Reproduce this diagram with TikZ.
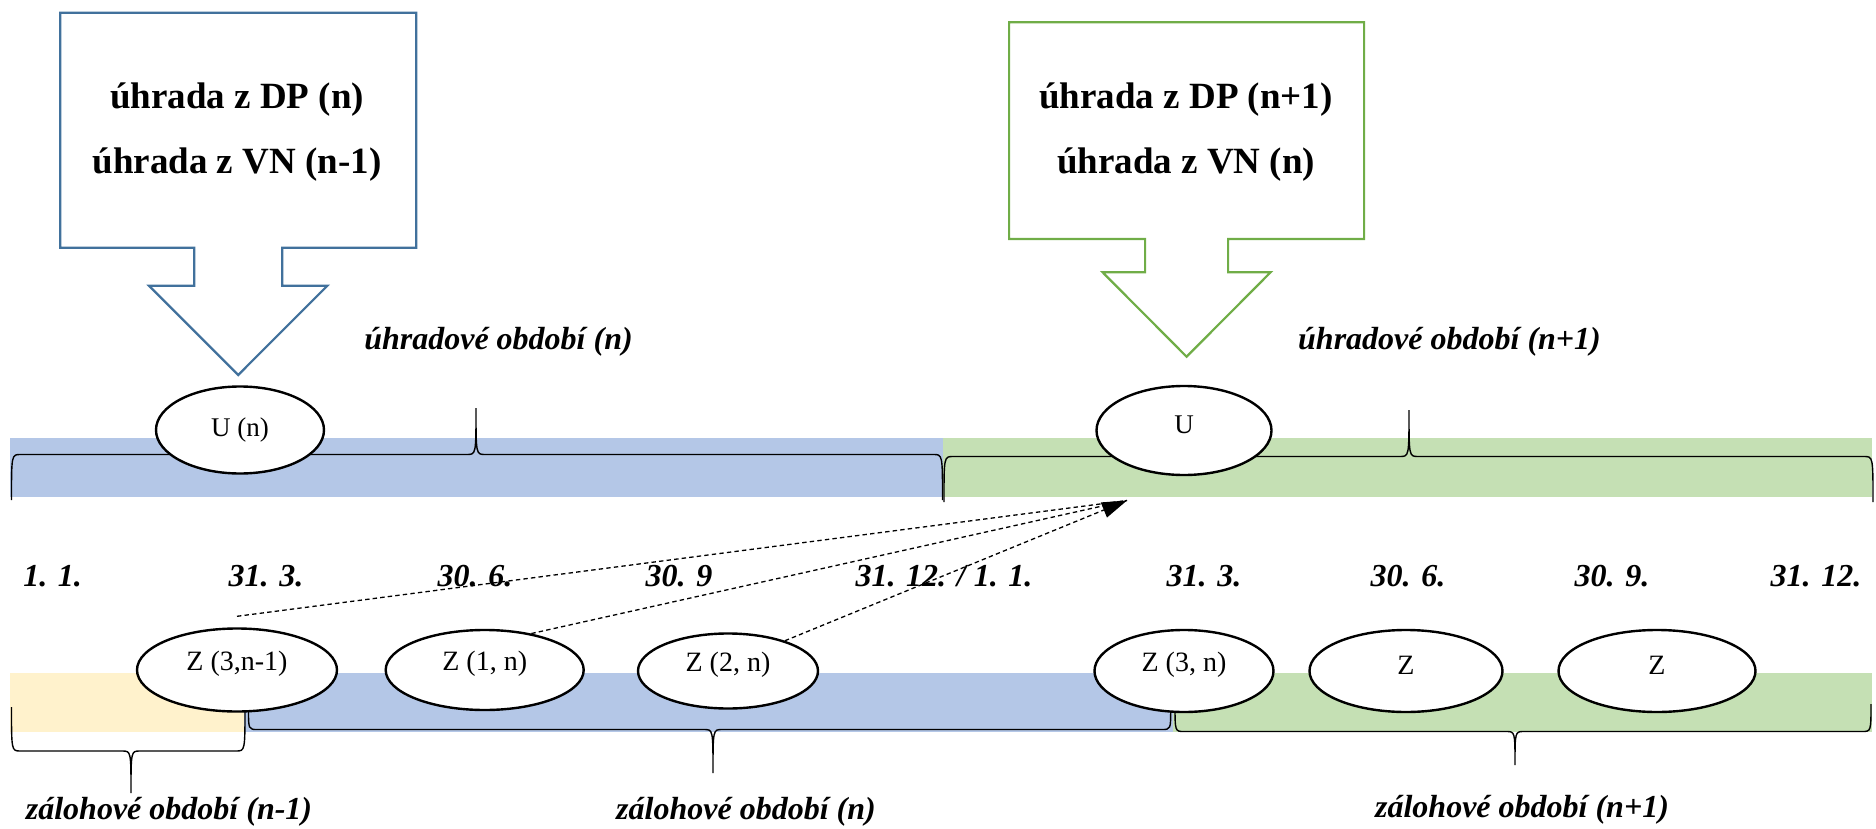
\documentclass[tikz,border=0pt]{standalone}
\usepackage{fontspec}
\setmainfont{Liberation Serif}
\usepackage{xcolor}
\definecolor{barblue}{RGB}{180,199,231}
\definecolor{bargreen}{RGB}{197,224,180}
\definecolor{baryellow}{RGB}{255,242,204}
\definecolor{boxblue}{RGB}{65,113,156}
\definecolor{boxgreen}{RGB}{112,173,71}
\usepackage{tikz}
\usetikzlibrary{shapes.geometric}
\usetikzlibrary{arrows.meta}
\newcommand{\bigfont}{\fontsize{18.5}{32.5}\selectfont\bfseries}
\newcommand{\labelfont}{\fontsize{16}{19}\selectfont\bfseries\itshape}
\newcommand{\ovalfont}{\fontsize{14}{17}\selectfont}
\newcommand{\lift}[1]{\raisebox{3pt}[\height][\depth]{#1}}
\newcommand{\bartop}{438.3}
\newcommand{\barbottom}{496.7}
\newcommand{\zbartop}{673.3}
\newcommand{\zbarbottom}{731.7}
\newcommand{\timebrace}[6]{%
    \draw[bracepath] (#1,#4) .. controls (#1,#5) and (#1,#5) .. (#1+9,#5)
        -- (#3-9,#5) .. controls (#3,#5) and (#3,#5) .. (#3,#6)
        .. controls (#3,#5) and (#3,#5) .. (#3+9,#5)
        -- (#2-9,#5) .. controls (#2,#5) and (#2,#5) .. (#2,#4);}
\tikzset{
    callout/.style={line width=1.1pt, line join=miter},
    boxtext/.style={font=\bigfont, align=center},
    period/.style={font=\labelfont},
    datum/.style={font=\labelfont},
    oval/.style={draw, ellipse, fill=white, line width=1.2pt, inner sep=0pt, font=\ovalfont},
    bracepath/.style={line width=0.7pt},
    link/.style={dash pattern=on 2.2pt off 1.6pt, line width=0.65pt}
}

\begin{document}
\begin{tikzpicture}[x=0.5pt, y=-0.5pt]
    \useasboundingbox (0,0) rectangle (1876,829);

    \fill[barblue] (9.6,\bartop) rectangle (942.6,\barbottom);
    \fill[bargreen] (942.6,\bartop) rectangle (1872,\barbottom);
    \fill[baryellow] (9.6,\zbartop) rectangle (243.5,\zbarbottom);
    \fill[barblue] (243.5,\zbartop) rectangle (1173.3,\zbarbottom);
    \fill[bargreen] (1173.3,\zbartop) rectangle (1872,\zbarbottom);

    \timebrace{11.5}{942.5}{476}{500}{454.5}{408}
    \timebrace{944}{1873}{1409}{502}{456.5}{410}
    \timebrace{11.5}{245}{131}{707}{751}{793}
    \timebrace{248.5}{1170.7}{713}{709}{729.5}{773}
    \timebrace{1175}{1871}{1515}{704}{731.5}{765}

    \draw[callout, boxblue] (60.2,12.7) -- (416.2,12.7) -- (416.2,247.7) -- (282.2,247.7) -- (282.2,285.7)
        -- (327.4,285.7) -- (238.2,375) -- (149,285.7) -- (194.2,285.7) -- (194.2,247.7) -- (60.2,247.7) -- cycle;
    \draw[callout, boxgreen] (1009.1,22.3) -- (1364.1,22.3) -- (1364.1,239) -- (1228.1,239) -- (1228.1,272.3)
        -- (1270.6,272.3) -- (1186.6,356.7) -- (1102.6,272.3) -- (1145.1,272.3) -- (1145.1,239) -- (1009.1,239) -- cycle;
    \node[boxtext] (paidn) at (237,132) {úhrada z DP (n)\\úhrada z VN (n-1)};
    \node[boxtext] (paidn1) at (1186,132) {úhrada z DP (n+1)\\úhrada z VN (n)};

    \node[period] (periodn) at (498.5,341.7) {úhradové období (n)};
    \node[period] (periodn1) at (1449.5,341.7) {úhradové období (n+1)};

    \node[oval, minimum width=84pt, minimum height=43.5pt, font=\fontsize{13.5}{16}\selectfont] (Un) at (240,430) {U (n)};
    \node[oval, minimum width=87.5pt, minimum height=44.5pt, font=\fontsize{13.5}{16}\selectfont] (Un1) at (1184,430.5) {\lift{U}};

    \node[datum] (d11) at (52.6,576) {1. 1.};
    \node[datum] (d313) at (266,576) {31. 3.};
    \node[datum] (d306) at (475,576) {30. 6.};
    \node[datum] (d309) at (679,576) {30. 9};
    \node[datum] (d3112) at (944,576) {31. 12. / 1. 1.};
    \node[datum] (e313) at (1204,576) {31. 3.};
    \node[datum] (e306) at (1408,576) {30. 6.};
    \node[datum] (e309) at (1612,576) {30. 9.};
    \node[datum] (e3112) at (1816,576) {31. 12.};

    \node[oval, minimum width=100pt, minimum height=41.5pt] (Z3nm1) at (237,670) {\lift{Z (3,n-1)}};
    \node[oval, minimum width=99pt, minimum height=40pt] (Z1n) at (484.7,670) {\lift{Z (1, n)}};
    \node[oval, minimum width=90pt, minimum height=37.5pt] (Z2n) at (728,671) {\lift{Z (2, n)}};
    \node[oval, minimum width=89.5pt, minimum height=41pt] (Z3n) at (1184,671) {\lift{Z (3, n)}};
    \node[oval, minimum width=96.5pt, minimum height=41pt] (Z1n1) at (1406,671) {\lift{Z}};
    \node[oval, minimum width=98.5pt, minimum height=41pt] (Z2n1) at (1657,671) {\lift{Z}};

    \node[period] (zperiodnm1) at (169,812) {zálohové období (n-1)};
    \node[period] (zperiodn) at (746,812) {zálohové období (n)};
    \node[period] (zperiodn1) at (1522,810) {zálohové období (n+1)};

    \coordinate (target) at (1127,500.5);
    \draw[link] ([yshift=5.5pt]Z3nm1.north) -- (target);
    \draw[link] (Z1n.38) -- (target);
    \draw[link, -{Triangle[length=12.5pt, width=8pt]}] (Z2n.28) -- (target);

\end{tikzpicture}
\end{document}
